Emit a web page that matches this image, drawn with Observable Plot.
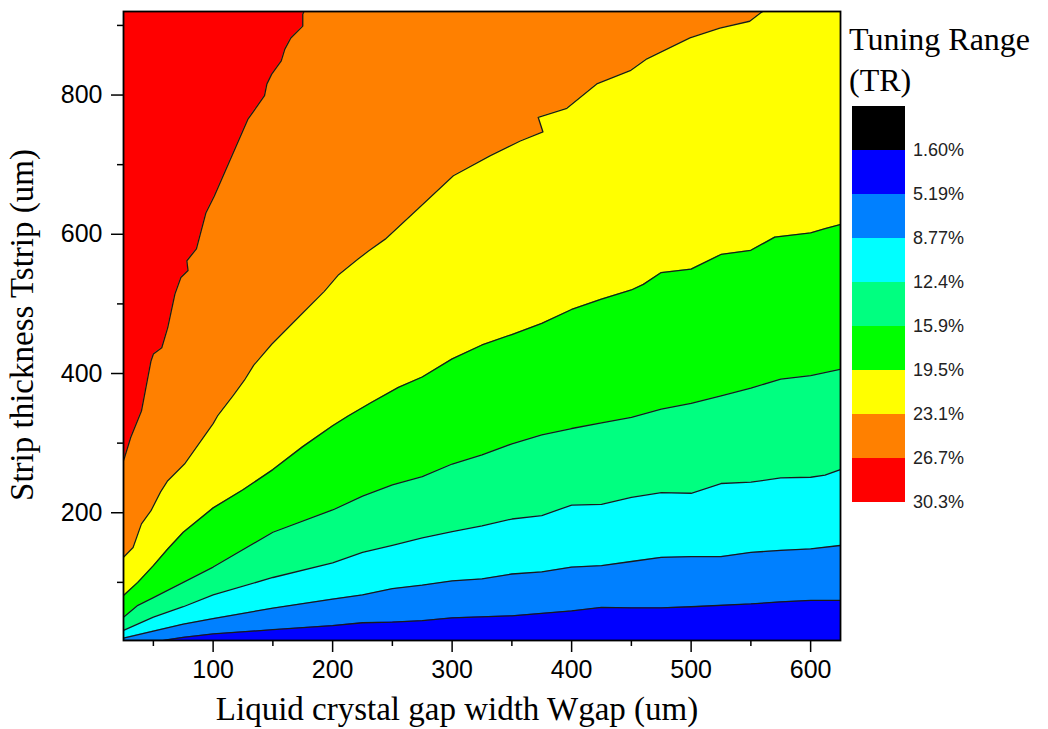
<!DOCTYPE html>
<html><head><meta charset="utf-8">
<script src="https://cdn.jsdelivr.net/npm/d3@7"></script>
<script src="https://cdn.jsdelivr.net/npm/@observablehq/plot@0.6"></script>
<style>
html,body{margin:0;padding:0;background:#fff;}
#wrap{position:relative;width:1048px;height:729px;overflow:hidden;}
#overlay{position:absolute;left:0;top:0;pointer-events:none;}
</style></head><body><div id="wrap"></div>
<script>
// ---- tick values ----
const xTicks = [100, 200, 300, 400, 500, 600];
const xMinor = [50, 150, 250, 350, 450, 550];
const yTicks = [200, 400, 600, 800];
const yMinor = [100, 300, 500, 700, 900];

// ---- legend ----
const legendLevels = ["1.60%", "5.19%", "8.77%", "12.4%", "15.9%", "19.5%", "23.1%", "26.7%", "30.3%"];
const legendColors = ["#000000", "#0000ff", "#0080ff", "#00ffff", "#00ff80", "#00ff00", "#ffff00", "#ff8000", "#ff0000"];

// ---- band colours from bottom to top (region below b1, above b1, ..., left of b7) ----
const bandColors = ["#0000ff", "#0080ff", "#00ffff", "#00ff80", "#00ff00", "#ffff00", "#ff8000", "#ff0000"];

// ---- contour boundaries [Wgap, Tstrip] ----
const b1 = [[25,16.5],[58,16.5],[75,21],[100,26],[150,32],[200,38],[225,42],[250,43],[275,45],[300,49],[350,52],[400,59],[425,64],[450,63.5],[475,63.5],[500,65],[550,69],[575,72],[600,74],[625,74]];
const b2 = [[25,20],[50,30],[75,40],[100,48],[150,63],[200,76],[225,82],[250,91],[275,96],[300,102],[325,105],[350,112],[375,115],[400,122],[425,124],[450,130],[475,136],[500,137],[525,137],[550,143],[575,146],[600,148],[625,153]];
const b3 = [[25,31],[50,50],[75,65],[100,82],[150,107],[200,128],[225,143],[250,153],[275,164],[300,173],[325,181],[350,191],[375,196],[400,211],[425,212],[450,222],[475,229],[500,228],[525,242],[550,244],[575,250],[600,251],[612,254],[625,262]];
const b4 = [[25,50],[37,67],[50,78],[75,100],[100,122],[150,172],[200,204],[225,224],[250,240],[275,252],[300,270],[325,283],[350,299],[375,312],[400,321],[425,329],[450,337],[475,349],[500,357],[525,368],[550,379],[575,392],[600,397],[625,406]];
const b5 = [[25,81],[37,100],[50,124],[62,148],[75,172],[100,207],[125,233],[150,262],[175,295],[200,325],[213,339],[232,358],[255,380],[275,395],[300,421],[325,441],[350,456],[375,472],[400,492],[425,507],[450,520],[460,528],[475,545],[500,550],[525,571],[550,577],[570,596],[600,602],[612,608],[625,614]];
const b6 = [[25,136],[33,150],[40,184],[48,203],[56,230],[62,246],[76,270],[100,328],[104,340],[117,369],[126,390],[134,412],[149,442],[171,480],[193,518],[205,542],[221,564],[230,576],[244,593],[271,636],[301,684],[332,713],[357,734],[376,747],[372,768],[396,781],[421,816],[449,835],[463,852],[499,882],[524,896],[549,906],[558,918],[560,920]];
const b7 = [[25,275],[26,280],[31,308],[40,346],[48,418],[50,428],[57,437],[62,466],[68,514],[73,538],[79,548],[78,562],[86,579],[94,631],[101,655],[129,765],[143,799],[145,816],[149,830],[157,849],[160,866],[165,882],[175,899],[175,916],[176,920]];

const X0 = 25, X1 = 625, Y0 = 16.5, Y1 = 920;
const fx = d => d[0], fy = d => d[1];
const lower = [b1, b2, b3, b4, b5, b6];

const chart = Plot.plot({
  width: 1048, height: 729,
  marginLeft: 123, marginRight: 208, marginTop: 11, marginBottom: 89,
  x: {domain: [X0, X1]},
  y: {domain: [Y0, Y1]},
  style: {fontFamily: "'Liberation Sans', Arial, sans-serif", fontSize: "25px", color: "#000", background: "#fff"},
  marks: [
    Plot.frame({fill: bandColors[0]}),
    ...lower.map((b, i) => Plot.areaY(b, {x: fx, y1: fy, y2: () => Y1, fill: bandColors[i + 1], clip: true})),
    Plot.areaX(b7, {y: fy, x1: () => X0, x2: fx, fill: bandColors[7], clip: true}),
    ...[...lower, b7].map(b => Plot.line(b, {x: fx, y: fy, stroke: "#1a1a1a", strokeWidth: 1.3, clip: true})),
    Plot.frame({stroke: "#000", strokeWidth: 1.8}),
    Plot.axisX(xTicks, {tickSize: 12, tickPadding: 8, strokeWidth: 1.5, label: null}),
    Plot.axisX(xMinor, {tickSize: 6, strokeWidth: 1.5, tickFormat: () => "", label: null}),
    Plot.axisY(yTicks, {tickSize: 12, tickPadding: 9, strokeWidth: 1.5, label: null}),
    Plot.axisY(yMinor, {tickSize: 6, strokeWidth: 1.5, tickFormat: () => "", label: null})
  ]
});
const wrap = document.getElementById("wrap");
wrap.appendChild(chart);

// ---- titles and legend overlay ----
const svg = d3.select(wrap).append("svg").attr("id", "overlay").attr("width", 1048).attr("height", 729);
const serif = "'Liberation Serif', 'Times New Roman', serif";
svg.append("text").attr("x", 457).attr("y", 720).attr("text-anchor", "middle")
  .attr("font-family", serif).attr("font-size", 33).text("Liquid crystal gap width Wgap (um)");
svg.append("text").attr("transform", "translate(33,325) rotate(-90)").attr("text-anchor", "middle")
  .attr("font-family", serif).attr("font-size", 33).text("Strip thickness Tstrip (um)");
svg.append("text").attr("x", 849).attr("y", 50).attr("font-family", serif).attr("font-size", 32).text("Tuning Range");
svg.append("text").attr("x", 849).attr("y", 91).attr("font-family", serif).attr("font-size", 32).text("(TR)");
const boxTop = 106, boxH = 44;
svg.selectAll("rect.sw").data(legendColors).join("rect").attr("class", "sw")
  .attr("x", 852).attr("width", 53).attr("y", (d, i) => boxTop + i * boxH).attr("height", boxH).attr("fill", d => d);
svg.selectAll("text.lv").data(legendLevels).join("text").attr("class", "lv")
  .attr("x", 913).attr("y", (d, i) => boxTop + (i + 1) * boxH).attr("dy", "0.35em")
  .attr("font-family", "'Liberation Sans', Arial, sans-serif").attr("font-size", 18).attr("fill", "#222").text(d => d);
</script></body></html>
